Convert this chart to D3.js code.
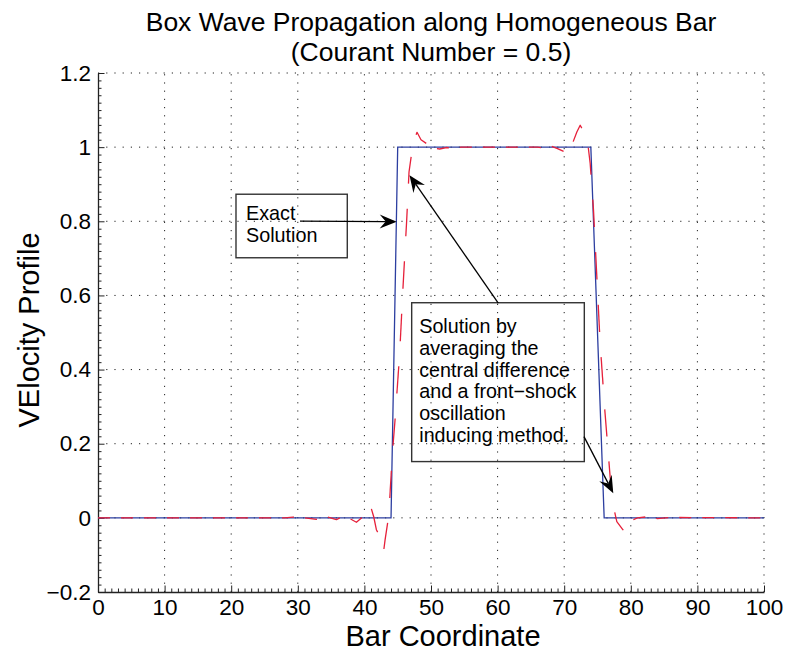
<!DOCTYPE html>
<html>
<head>
<meta charset="utf-8">
<script src="https://cdn.jsdelivr.net/npm/d3@7/dist/d3.min.js"></script>
<style>
  html, body { margin: 0; padding: 0; background: #fff; }
  svg { display: block; font-family: "Liberation Sans", Arial, Helvetica, sans-serif; }
</style>
</head>
<body>
<svg id="chart" width="785" height="654"></svg>
<script>
// ---------- data ----------
const xTicks = [0, 10, 20, 30, 40, 50, 60, 70, 80, 90, 100];
const yTicks = [-0.2, 0, 0.2, 0.4, 0.6, 0.8, 1.0, 1.2];
const xTickLabels = ["0", "10", "20", "30", "40", "50", "60", "70", "80", "90", "100"];
const yTickLabels = ["\u22120.2", "0", "0.2", "0.4", "0.6", "0.8", "1", "1.2"];

// exact solution (blue, solid)
const exactX = [0, 44, 45, 74, 76, 100];
const exactY = [0, 0, 1, 1, 0, 0];

// numerical solution (red, dashed)
const numX = [0, 28, 29.3, 31, 32.8, 34.5, 35.8, 36.8, 37.6, 38.8, 39.6, 40.4, 41.0, 41.4, 41.8, 42.6, 42.9, 43.1,
  43.6, 43.8, 44.2, 44.6, 45.3, 45.8, 46.35, 46.7, 47.3, 47.9, 48.5, 49.7, 50.4, 51.3, 52.3, 53.2, 54.5,
  66, 67, 68, 69, 70.1, 71.1, 71.9, 72.4, 73.1, 73.6, 73.9, 74.4, 74.9, 75.4, 76.1, 76.9, 77.4, 77.9,
  78.8, 79.8, 81, 82.5, 84, 86, 100];
const numY = [0, 0, 0.002, 0, -0.004, 0.002, -0.005, 0.005, 0, -0.012, 0, 0.005, 0.027, 0.003, -0.032, -0.059, -0.088, -0.06,
  0, 0.05, 0.174, 0.264, 0.445, 0.623, 0.803, 0.933, 1.01, 1.04, 1.02, 1.005, 0.997, 0.995, 0.999, 0.997, 1.0,
  1.0, 0.997, 1.003, 0.996, 0.987, 1.003, 1.041, 1.059, 1.037, 1.001, 0.956, 0.83, 0.65, 0.47, 0.29, 0.11, 0.03, -0.01,
  -0.032, -0.01, 0, 0.003, -0.002, 0.001, 0];

const titleLines = ["Box Wave Propagation along Homogeneous Bar", "(Courant Number = 0.5)"];
const xLabel = "Bar Coordinate";
const yLabel = "VElocity Profile";

// annotations (data units)
const box1Lines = ["Exact", "Solution"];
const box2Lines = ["Solution by", "averaging the", "central difference", "and a front\u2212shock", "oscillation", "inducing method."];

// ---------- layout ----------
const svg = d3.select("#chart");
const L = 98, R = 764, T = 73, B = 592;
const x = d3.scaleLinear().domain([0, 100]).range([L, R]);
const y = d3.scaleLinear().domain([-0.2, 1.2]).range([B, T]);

// grid (dotted)
const grid = svg.append("g").attr("stroke", "#222").attr("stroke-width", 1)
  .attr("stroke-dasharray", "1.2,7");
grid.selectAll("line.v").data(xTicks.filter(d => d > 0)).join("line")
  .attr("x1", d => x(d)).attr("x2", d => x(d)).attr("y1", B).attr("y2", T);
grid.selectAll("line.h").data(yTicks.filter(d => d > -0.2)).join("line")
  .attr("y1", d => y(d)).attr("y2", d => y(d)).attr("x1", L).attr("x2", R);

// minor ticks
const xMinor = d3.range(0, 101, 1).filter(d => d % 10 !== 0);
const yMinor = d3.range(-20, 121, 2).map(d => d / 100).filter(d => Math.round(d * 100) % 20 !== 0);
svg.append("g").attr("transform", `translate(0,${B})`)
  .call(d3.axisBottom(x).tickValues(xMinor).tickSizeInner(-3.5).tickSizeOuter(0).tickFormat(""))
  .call(g => g.select(".domain").remove())
  .selectAll("line").attr("stroke", "#222");
svg.append("g").attr("transform", `translate(${L},0)`)
  .call(d3.axisLeft(y).tickValues(yMinor).tickSizeInner(-3.5).tickSizeOuter(0).tickFormat(""))
  .call(g => g.select(".domain").remove())
  .selectAll("line").attr("stroke", "#222");

// major axes
const xAxis = svg.append("g").attr("transform", `translate(0,${B})`)
  .call(d3.axisBottom(x).tickValues(xTicks).tickSizeInner(-6.5).tickSizeOuter(0).tickPadding(7)
    .tickFormat((d, i) => xTickLabels[i]));
const yAxis = svg.append("g").attr("transform", `translate(${L},0)`)
  .call(d3.axisLeft(y).tickValues(yTicks).tickSizeInner(-6.5).tickSizeOuter(0).tickPadding(7)
    .tickFormat((d, i) => yTickLabels[i]));
[xAxis, yAxis].forEach(a => {
  a.select(".domain").attr("stroke", "#222").attr("stroke-width", 1.3);
  a.selectAll(".tick line").attr("stroke", "#222").attr("stroke-width", 1);
  a.selectAll(".tick text").attr("font-size", 22.5).attr("fill", "#000")
    .attr("font-family", "'Liberation Sans', Arial, sans-serif");
});

// ---------- lines ----------
const line = d3.line().x(d => d[0]).y(d => d[1]);
const exactPts = exactX.map((v, i) => [x(v), y(exactY[i])]);
svg.append("path").attr("d", line(exactPts)).attr("fill", "none")
  .attr("stroke", "#2c3ea0").attr("stroke-width", 1.3);

// custom dashing (dash lengths grow on steep parts, as in the reference)
function dashify(pts, dash, gap, k) {
  const segs = [];
  let on = true, remaining = dash, cur = [pts[0]];
  for (let i = 1; i < pts.length; i++) {
    const a = pts[i - 1], b = pts[i];
    const dx = b[0] - a[0], dy = b[1] - a[1];
    const len = Math.hypot(dx, dy / k);
    if (len === 0) continue;
    let t = 0;
    while (len * (1 - t) > remaining) {
      t += remaining / len;
      const p = [a[0] + dx * t, a[1] + dy * t];
      if (on) { cur.push(p); segs.push(cur); }
      else { cur = [p]; }
      on = !on;
      remaining = on ? dash : gap;
    }
    remaining -= len * (1 - t);
    if (on) cur.push(b);
  }
  if (on && cur.length > 1) segs.push(cur);
  return segs;
}
const numPts = numX.map((v, i) => [x(v), y(numY[i])]);
svg.append("g").selectAll("path").data(dashify(numPts, 12, 11, 2.3)).join("path")
  .attr("d", d => line(d)).attr("fill", "none")
  .attr("stroke", "#e6203a").attr("stroke-width", 1.3)
  .attr("stroke-linecap", "butt").attr("stroke-linejoin", "round");

// ---------- titles ----------
svg.append("text").attr("x", 431).attr("y", 31).attr("text-anchor", "middle")
  .attr("font-size", 26.5).text(titleLines[0]);
svg.append("text").attr("x", 431).attr("y", 61).attr("text-anchor", "middle")
  .attr("font-size", 26.5).text(titleLines[1]);
svg.append("text").attr("x", 443).attr("y", 646).attr("text-anchor", "middle")
  .attr("font-size", 29).text(xLabel);
svg.append("text").attr("transform", "translate(39,330) rotate(-90)").attr("text-anchor", "middle")
  .attr("font-size", 29).text(yLabel);

// ---------- annotations ----------
function drawBox(x0, y0, x1, y1) {
  svg.append("rect").attr("x", x(x0)).attr("y", y(y0))
    .attr("width", x(x1) - x(x0)).attr("height", y(y1) - y(y0))
    .attr("fill", "none").attr("stroke", "#333").attr("stroke-width", 1.4);
}
function drawArrow(fx, fy, tx, ty) {
  const x0 = x(fx), y0 = y(fy), x1 = x(tx), y1 = y(ty);
  const ang = Math.atan2(y1 - y0, x1 - x0);
  const hl = 17, hw = 7, nd = 11;
  const ca = Math.cos(ang), sa = Math.sin(ang);
  const pt = (u, v) => [x1 + u * ca - v * sa, y1 + u * sa + v * ca];
  svg.append("line").attr("x1", x0).attr("y1", y0)
    .attr("x2", pt(-nd, 0)[0]).attr("y2", pt(-nd, 0)[1])
    .attr("stroke", "#000").attr("stroke-width", 1.3);
  const head = [pt(0, 0), pt(-hl, -hw), pt(-nd, 0), pt(-hl, hw)];
  svg.append("path").attr("d", "M" + head.map(p => p.join(",")).join("L") + "Z").attr("fill", "#000");
}
function drawText(lines, tx, ty0, step, size) {
  lines.forEach((s, i) => {
    svg.append("text").attr("x", x(tx)).attr("y", y(ty0) + i * step)
      .attr("font-size", size).text(s);
  });
}

drawBox(20.72, 0.873, 37.43, 0.7016);
drawText(box1Lines, 22.22, 0.803, 22.3, 19.8);
drawArrow(30.33, 0.8005, 44.85, 0.799);

drawBox(47.10, 0.5803, 73.02, 0.1518);
drawText(box2Lines, 48.24, 0.4978, 21.7, 19.7);
drawArrow(60.1, 0.5795, 46.77, 0.9245);
drawArrow(72.97, 0.2191, 77.37, 0.0666);
</script>
</body>
</html>
